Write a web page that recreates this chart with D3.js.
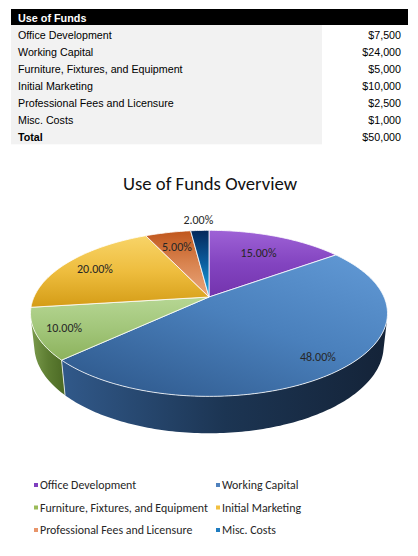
<!DOCTYPE html>
<html><head><meta charset="utf-8">
<script src="https://cdn.jsdelivr.net/npm/d3@7"></script>
<style>body{margin:0;background:#fff}svg{display:block}</style>
</head><body><svg id="c" width="418" height="556"></svg>
<script>
// ---------- data ----------
const categories = ["Office Development","Working Capital","Furniture, Fixtures, and Equipment","Initial Marketing","Professional Fees and Licensure","Misc. Costs"];
const amounts = [7500, 24000, 5000, 10000, 2500, 1000];
const tableTitle = "Use of Funds";
const totalLabel = "Total";
const chartTitle = "Use of Funds Overview";

// ---------- styles / layout ----------
const legendColors = ["#7f3fbf","#4f81bd","#9bbb59","#f2c040","#e8956a","#1f7cc0"];
const topStops = [
  ["#9e62d6","#8344c0","#7333ad"],
  ["#629ad6","#4a80bc","#305b8f"],
  ["#b6d693","#a2c67a","#8cb25c"],
  ["#f8d468","#eebd3e","#d49c16"],
  ["#c0561c","#d98450","#eaa77c"],
  ["#05285a","#0b5fa0","#1aaae4"]
];
const sideStops = [
  ["#6a2a9a","#5a2386"],
  ["#31598a","#1c3553","#142338"],
  ["#7c9c4e","#5d7d32","#4b6924"],
  ["#c08a10","#a87608"],
  ["#b8602a","#9a4a1c"],
  ["#0b4a88","#083a6a"]
];
const labelR = [0.7, 0.85, 0.85, 0.8, 0.75, 1.2];
const FONT_CHART = "Carlito, Lato, sans-serif";
const FONT_TABLE = "Arial, 'Liberation Sans', sans-serif";

const svg = d3.select("#c");
const defs = svg.append("defs");
const money = d3.format("$,");
const pct = d3.format(".2%");
const total = d3.sum(amounts);

// ---------- table ----------
const rows = categories.map((c,i)=>({label:c, value:amounts[i], bold:false}))
  .concat([{label: totalLabel, value: total, bold: true}]);
const yRow = d3.scaleLinear().domain([0, rows.length]).range([25, 25 + rows.length*17.05]);
svg.append("rect").attr("x",11).attr("y",9).attr("width",397).attr("height",16).attr("fill","#000");
svg.append("text").attr("x",18).attr("y",21.6).text(tableTitle)
  .attr("font-family",FONT_TABLE).attr("font-size",10.8).attr("font-weight","bold").attr("fill","#fff");
svg.append("rect").attr("x",11).attr("y",yRow(0)).attr("width",311).attr("height",yRow(rows.length)-yRow(0)).attr("fill","#f2f2f2");
const rg = svg.selectAll("g.row").data(rows).join("g").attr("class","row")
  .attr("transform",(d,i)=>`translate(0,${yRow(i)+14.1})`)
  .attr("font-family",FONT_TABLE).attr("font-size",10.7).attr("fill","#000");
rg.append("text").attr("x",18).text(d=>d.label).attr("font-weight",d=>d.bold?"bold":null);
rg.append("text").attr("x",401).attr("text-anchor","end").text(d=>money(d.value));

// ---------- title ----------
svg.append("text").attr("x",210).attr("y",190).attr("text-anchor","middle")
  .attr("font-family",FONT_CHART).attr("font-size",18.7).attr("fill","#111").text(chartTitle);

// ---------- 3D pie projection ----------
const P = {cx:209, cy:297, s:175, sinA:0.456, D:4.52, h:0.2085};
P.cosA = Math.sqrt(1-P.sinA*P.sinA);
function proj(X, Z, Y){
  const z = P.D - Y*P.sinA - Z*P.cosA;
  return [P.cx + P.s*P.D*X/z, P.cy + P.s*P.D*(-Y*P.cosA + Z*P.sinA)/z];
}
const rim = (t, r, Y) => proj(r*Math.sin(t), -r*Math.cos(t), Y);
function arcPts(a, b, Y){
  const n = Math.max(2, Math.ceil((b-a)/(Math.PI/180)));
  return d3.range(n+1).map(k => rim(a + (b-a)*k/n, 1, Y));
}
const line = d3.line();
const arcs = d3.pie().sort(null).value(d=>d)(amounts);

// gradients
arcs.forEach((a,i)=>{
  const tg = defs.append("linearGradient").attr("id","top"+i)
    .attr("x1", i===1?1:0).attr("y1",0).attr("x2",i===1?0.2:0).attr("y2",1);
  topStops[i].forEach((c,k,arr)=>tg.append("stop").attr("offset",k/(arr.length-1)).attr("stop-color",c));
  const sg = defs.append("linearGradient").attr("id","side"+i).attr("x1",0).attr("y1",0).attr("x2",1).attr("y2",0);
  sideStops[i].forEach((c,k,arr)=>sg.append("stop").attr("offset",k/(arr.length-1)).attr("stop-color",c));
});

const zmin = 1/(P.D*P.cosA);
const visA = Math.acos(-zmin), visB = 2*Math.PI - visA;
const gPie = svg.append("g");
// sides
arcs.forEach((a,i)=>{
  const s0 = Math.max(a.startAngle, visA), s1 = Math.min(a.endAngle, visB);
  if (s1 <= s0) return;
  const topP = arcPts(s0, s1, 0), botP = arcPts(s0, s1, -P.h).reverse();
  gPie.append("path").attr("d", line(topP.concat(botP)) + "Z").attr("fill",`url(#side${i})`);
});
// side boundaries
arcs.forEach((a)=>{
  const t = a.startAngle;
  if (t > visA && t < visB){
    gPie.append("path").attr("d", line([rim(t,1,0), rim(t,1,-P.h)]))
      .attr("stroke","#fff").attr("stroke-width",0.9).attr("stroke-opacity",0.85);
  }
});
// tops
arcs.forEach((a,i)=>{
  const pts = [proj(0,0,0)].concat(arcPts(a.startAngle, a.endAngle, 0));
  gPie.append("path").attr("d", line(pts)+"Z").attr("fill",`url(#top${i})`)
    .attr("stroke","#fff").attr("stroke-width",0.8).attr("stroke-linejoin","round");
});
// labels
arcs.forEach((a,i)=>{
  const m = (a.startAngle + a.endAngle)/2;
  const [x,y] = rim(m, labelR[i], 0);
  gPie.append("text").attr("x",x).attr("y",y).attr("dy","0.35em").attr("text-anchor","middle")
    .attr("font-family",FONT_CHART).attr("font-size",12).attr("fill","#262626")
    .text(pct(a.value/total));
});

// ---------- legend ----------
const legX = [35, 217], legY = [485, 507.5, 530];
const lg = svg.selectAll("g.leg").data(categories).join("g").attr("class","leg")
  .attr("transform",(d,i)=>`translate(${legX[i%2]},${legY[Math.floor(i/2)]})`);
lg.append("rect").attr("x",-1).attr("y",-2).attr("width",4).attr("height",4).attr("fill",(d,i)=>legendColors[i]);
lg.append("text").attr("x",5).attr("dy","0.35em").attr("font-family",FONT_CHART).attr("font-size",11.9)
  .attr("fill","#262626").text(d=>d);
</script></body></html>
